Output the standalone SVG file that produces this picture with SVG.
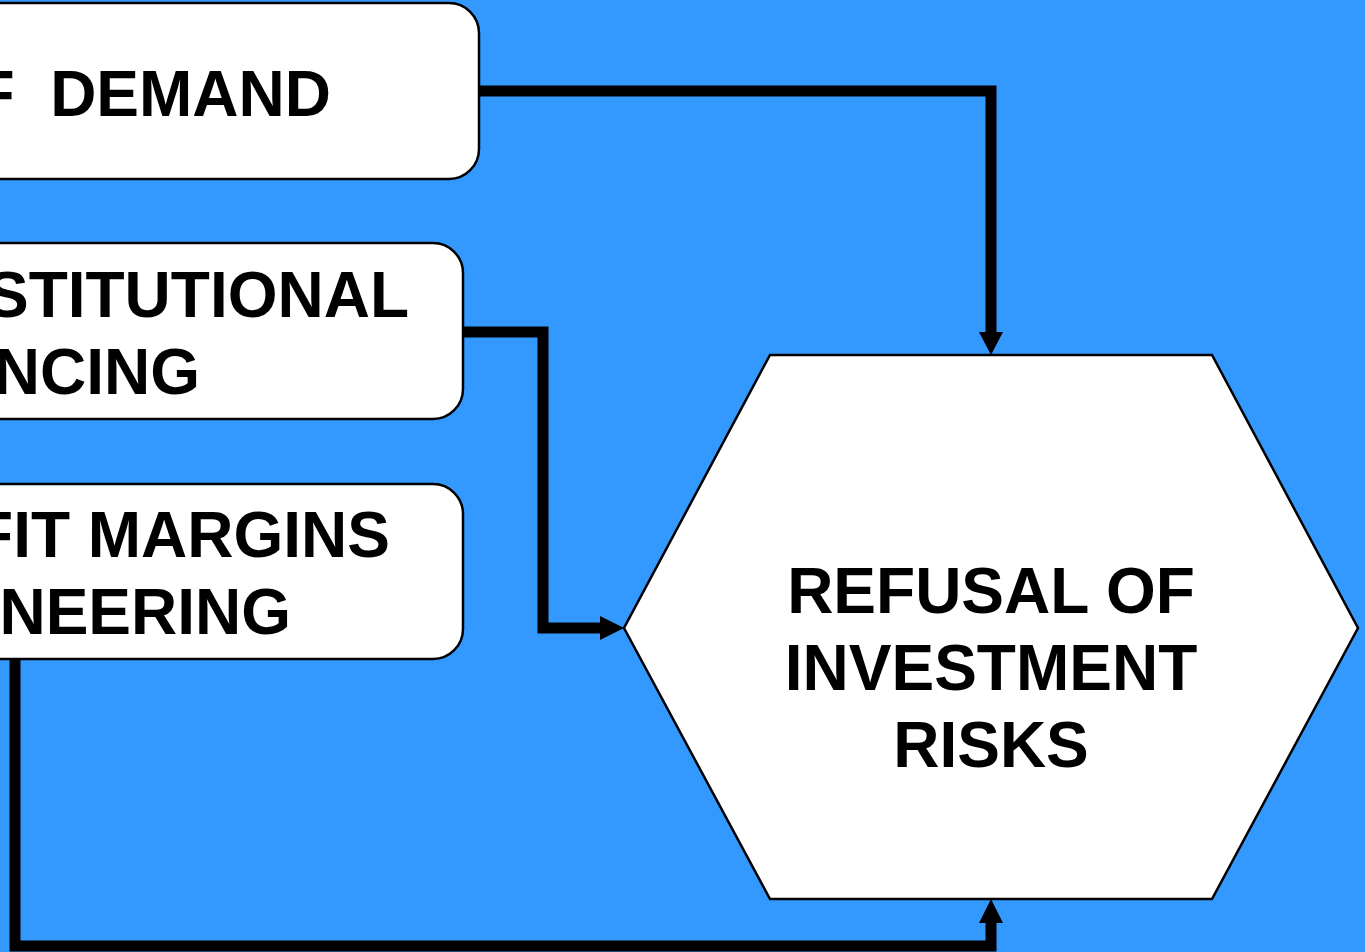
<svg xmlns="http://www.w3.org/2000/svg" width="1365" height="952" viewBox="0 0 1365 952">
  <style>
    .box { fill: #ffffff; stroke: #000000; stroke-width: 2.5; }
    .lbl { font-family: "Liberation Sans", Arial, sans-serif; font-weight: bold; font-size: 64px; fill: #000000; white-space: pre; }
    .wire { fill: none; stroke: #000000; stroke-width: 11; stroke-linejoin: miter; stroke-linecap: butt; }
    .head { fill: #000000; }
  </style>
  <rect width="1365" height="952" fill="#3399ff"/>

  <g id="connectors">
    <!-- top box to hexagon top -->
    <polyline class="wire" points="479,91 991,91 991,334"/>
    <polygon class="head" points="979,332 1003,332 991,355"/>
    <!-- middle box to hexagon left -->
    <polyline class="wire" points="463,332 543,332 543,628 602,628"/>
    <polygon class="head" points="600,616 600,640 624,628"/>
    <!-- lower box to hexagon bottom -->
    <polyline class="wire" points="15,659 15,946 991,946 991,920"/>
    <polygon class="head" points="979,923 1003,923 991,899"/>
  </g>

  <g id="node-demand">
    <rect class="box" x="-120" y="3" width="599" height="176" rx="30" ry="30"/>
    <text class="lbl" x="331" y="116" text-anchor="end" xml:space="preserve">F  DEMAND</text>
  </g>

  <g id="node-financing">
    <rect class="box" x="-120" y="243" width="583" height="176" rx="30" ry="30"/>
    <text class="lbl" x="409" y="317" text-anchor="end">STITUTIONAL</text>
    <text class="lbl" x="200" y="394" text-anchor="end">NCING</text>
  </g>

  <g id="node-margins">
    <rect class="box" x="-120" y="484" width="583" height="175" rx="30" ry="30"/>
    <text class="lbl" x="390" y="557" text-anchor="end">FIT MARGINS</text>
    <text class="lbl" x="291" y="634" text-anchor="end">NEERING</text>
  </g>

  <g id="node-refusal">
    <polygon class="box" points="770,355 1212,355 1358,628 1212,899 770,899 624,628"/>
    <text class="lbl" x="991" y="613" text-anchor="middle">REFUSAL OF</text>
    <text class="lbl" x="991" y="690" text-anchor="middle">INVESTMENT</text>
    <text class="lbl" x="991" y="767" text-anchor="middle">RISKS</text>
  </g>
</svg>
